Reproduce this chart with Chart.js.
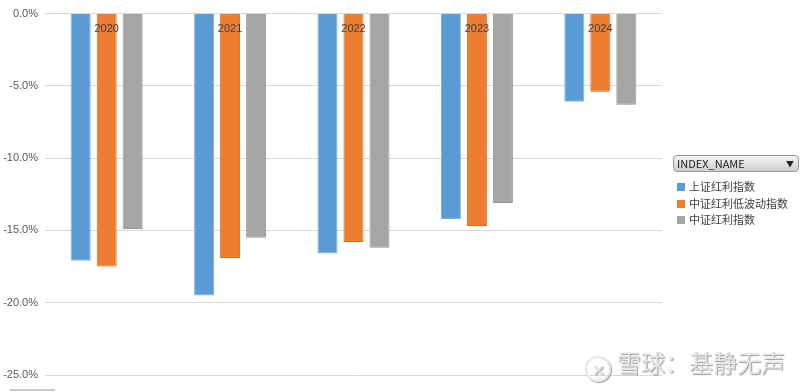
<!DOCTYPE html>
<html>
<head>
<meta charset="utf-8">
<script src="https://cdn.jsdelivr.net/npm/chart.js@4/dist/chart.umd.min.js"></script>
<style>
  body { margin: 0; background: #fff; }
  #wrap { position: relative; width: 800px; height: 392px; font-family: "Noto Sans CJK SC", "Liberation Sans", sans-serif; }
  #legend { position: absolute; left: 673px; top: 155px; font-size: 11px; color: #404040; }
  #legend .btn { width: 121px; height: 15px; border: 1px solid #9a9a9a; border-radius: 4px;
    background: linear-gradient(#f4f4f4, #cfcfcf); font-size: 11px; line-height: 15px; padding-left: 3px;
    box-sizing: content-box; position: relative; color: #222; }
  #legend .btn span.arr { position: absolute; right: 4px; top: 0; font-size: 8px; }
  #legend .item { height: 16.5px; line-height: 16.5px; margin-left: 4px; }
  #legend .sw { display: inline-block; width: 8px; height: 8px; margin-right: 4px; }
  #wm { position: absolute; left: 585px; top: 347px; font-size: 24px; line-height: 30px; color: #e6e6e6;
    text-shadow: 1px 1px 1px #999; white-space: nowrap; }
  #wm .logo { display: inline-block; width: 22px; height: 22px; border: 2px solid #e6e6e6; border-radius: 50%;
    box-shadow: 1px 1px 1px #999; vertical-align: -4px; margin-right: 6px; font-size: 16px; line-height: 22px; text-align: center; }
  #bar { position: absolute; left: 10px; top: 389px; width: 45px; height: 2px; background: #c8c8c8; }
</style>
</head>
<body>
<div id="wrap">
  <canvas id="barChart" width="800" height="392"></canvas>
  <div id="legend"></div>
  <div id="wm"><span class="logo">✕</span>雪球：基静无声</div>
  <div id="bar"></div>
</div>
<script>
var years = ['2020', '2021', '2022', '2023', '2024'];
var seriesNames = ['上证红利指数', '中证红利低波动指数', '中证红利指数'];
var shangzheng = [-17.1, -19.5, -16.6, -14.2, -6.1];
var dibodong = [-17.5, -16.9, -15.8, -14.7, -5.4];
var zhongzheng = [-14.9, -15.5, -16.2, -13.1, -6.3];
var yTicks = [0, -5, -10, -15, -20, -25];

var colors = ['#5b9bd5', '#ed7d31', '#a5a5a5'];
var borders = ['#7aaedc', '#e06a18', '#979797'];

// year labels drawn inside the plot just under the zero line
var yearLabels = {
    id: 'yearLabels',
    afterDatasetsDraw: function (chart) {
        var c = chart.ctx, x = chart.scales.x, top = chart.chartArea.top;
        c.save();
        c.font = '11px "Liberation Sans", sans-serif';
        c.fillStyle = '#404040';
        c.textAlign = 'center';
        c.textBaseline = 'middle';
        years.forEach(function (y, i) {
            c.fillText(y, x.getPixelForValue(i), top + 15);
        });
        c.restore();
    }
};

var ctx = document.getElementById('barChart').getContext('2d');
var barChart = new Chart(ctx, {
    type: 'bar',
    data: {
        labels: years,
        datasets: [shangzheng, dibodong, zhongzheng].map(function (d, i) {
            return {
                label: seriesNames[i],
                data: d,
                backgroundColor: colors[i],
                borderColor: borders[i],
                borderWidth: 1,
                categoryPercentage: 0.632,
                barPercentage: 0.77
            };
        })
    },
    options: {
        responsive: false,
        animation: false,
        layout: { padding: { top: 10, right: 138, bottom: 17, left: 0 } },
        plugins: { legend: { display: false }, tooltip: { enabled: false } },
        scales: {
            x: { display: false },
            y: {
                min: -25,
                max: 0,
                afterFit: function (s) { s.width = 45; },
                afterBuildTicks: function (s) { s.ticks = yTicks.map(function (v) { return { value: v }; }); },
                border: { display: false },
                grid: { color: '#d9d9d9', drawTicks: false },
                ticks: {
                    padding: 7,
                    color: '#595959',
                    font: { size: 11, family: '"Liberation Sans", sans-serif' },
                    callback: function (v) { return v.toFixed(1) + '%'; }
                }
            }
        }
    },
    plugins: [yearLabels]
});

var lg = document.getElementById('legend');
var html = '<div class="btn">INDEX_NAME<span class="arr">&#9660;</span></div><div style="height:6px"></div>';
seriesNames.forEach(function (n, i) {
    html += '<div class="item"><span class="sw" style="background:' + colors[i] + '"></span>' + n + '</div>';
});
lg.innerHTML = html;
</script>
</body>
</html>
